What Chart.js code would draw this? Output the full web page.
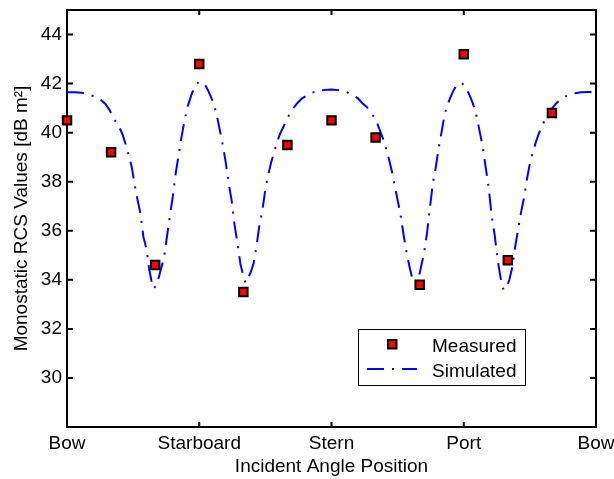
<!DOCTYPE html>
<html>
<head>
<meta charset="utf-8">
<script src="https://cdn.jsdelivr.net/npm/chart.js@4/dist/chart.umd.min.js"></script>
<style>
  html, body { margin: 0; padding: 0; background: #fff; }
  #wrap { width: 614px; height: 479px; position: relative; }
</style>
</head>
<body>
<div id="wrap"><canvas id="rcsChart"></canvas></div>
<script>
// positions around the hull, degrees
const xTickPos = [0, 90, 180, 270, 360];
const xTickLabels = ['Bow', 'Starboard', 'Stern', 'Port', 'Bow'];
const yTicks = [30, 32, 34, 36, 38, 40, 42, 44];

const measAngles = [0, 30, 60, 90, 120, 150, 180, 210, 240, 270, 300, 330];
const measValues = [40.5, 39.2, 34.6, 42.8, 33.5, 39.5, 40.5, 39.8, 33.8, 43.2, 34.8, 40.8];

const simAngles = [0, 5, 10, 15, 19, 23, 26, 29, 32, 35, 38, 41, 44, 47, 50, 52, 54, 56, 57.5, 59,
    60.5, 62, 64, 66, 68, 70, 72, 74, 76, 78, 80, 82, 85, 87, 89.5, 92, 94, 96, 98, 100,
    102, 104, 106, 108, 110, 112, 114, 116, 118, 120, 121.5, 123, 125, 127, 129, 131, 133, 135, 137, 139,
    141, 143, 145, 148, 151, 154, 157, 160, 165, 170, 175, 180, 185, 190, 194, 198, 201, 204, 207, 210,
    213, 216, 219, 221, 223, 225, 227, 229, 231, 233, 235, 237, 239, 241, 243, 245, 247, 249, 251, 253,
    255, 257, 259, 261, 263, 265, 267, 269, 271, 273, 275, 277, 279, 281, 283, 285, 287, 289, 291, 293,
    295, 297, 299, 301, 303, 305, 307, 309, 311, 313, 315, 317, 319, 321, 324, 327, 330, 333, 336, 340,
    345, 350, 355, 360];
const simValues = [41.65, 41.65, 41.63, 41.55, 41.47, 41.33, 41.18, 40.92, 40.55, 40.3, 39.9, 39.3, 38.62, 37.55, 36.7, 35.75, 35.27, 34.41, 33.95, 33.64,
    33.75, 34.0, 34.45, 34.9, 35.75, 36.6, 37.4, 38.35, 39.1, 39.85, 40.5, 41.05, 41.6, 41.88, 42.06, 42.05, 41.95, 41.72, 41.45, 41.15,
    40.7, 40.1, 39.5, 38.8, 37.95, 37.25, 36.25, 35.5, 34.65, 34.15, 33.88, 34.05, 34.3, 34.68, 35.4, 36.25, 36.85, 37.7, 38.3, 38.8,
    39.22, 39.63, 39.95, 40.33, 40.7, 41.0, 41.22, 41.4, 41.58, 41.7, 41.74, 41.76, 41.73, 41.66, 41.55, 41.4, 41.2, 41.05, 40.8, 40.55,
    40.08, 39.6, 38.95, 38.45, 37.85, 37.25, 36.65, 35.85, 35.15, 34.55, 34.05, 33.85, 33.98, 34.55, 35.1, 35.9, 36.95, 37.95, 38.6, 39.4,
    40.05, 40.75, 41.15, 41.45, 41.72, 41.92, 42.02, 42.0, 41.88, 41.65, 41.38, 41.05, 40.6, 40.0, 39.4, 38.55, 37.75, 36.6, 35.85, 34.85,
    34.1, 33.6, 33.65, 34.0, 34.5, 35.35, 36.05, 36.75, 37.35, 38.1, 38.75, 39.2, 39.6, 39.95, 40.38, 40.68, 40.98, 41.2, 41.36, 41.5,
    41.6, 41.65, 41.66, 41.65];

const FONT = 'Liberation Sans, Arial, Helvetica, sans-serif';
const SIM_DASH = [17, 8, 2, 8];

// axes frame with inward tick marks, drawn under the data like matlab does
const frame = {
    id: 'frame',
    beforeDatasetsDraw(chart) {
        const { ctx, chartArea: a, scales: { x, y } } = chart;
        ctx.save();
        ctx.strokeStyle = '#000';
        ctx.lineWidth = 2;
        ctx.strokeRect(a.left, a.top, a.right - a.left, a.bottom - a.top);
        ctx.beginPath();
        xTickPos.forEach(v => {
            const px = x.getPixelForValue(v);
            ctx.moveTo(px, a.bottom); ctx.lineTo(px, a.bottom - 5);
            ctx.moveTo(px, a.top); ctx.lineTo(px, a.top + 5);
        });
        yTicks.forEach(v => {
            const py = y.getPixelForValue(v);
            ctx.moveTo(a.left, py); ctx.lineTo(a.left + 6, py);
            ctx.moveTo(a.right, py); ctx.lineTo(a.right - 6, py);
        });
        ctx.stroke();
        ctx.restore();
    }
};

// legend box in the lower right of the axes
const boxLegend = {
    id: 'boxLegend',
    afterDatasetsDraw(chart) {
        const { ctx, chartArea: a } = chart;
        const bx = a.right - 238, by = a.bottom - 98, bw = 167, bh = 56;
        ctx.save();
        ctx.fillStyle = '#fff';
        ctx.fillRect(bx, by, bw, bh);
        ctx.strokeStyle = '#000';
        ctx.lineWidth = 1;
        ctx.strokeRect(bx + 0.5, by + 0.5, bw, bh);

        // measured marker
        ctx.fillStyle = '#ff0000';
        ctx.lineWidth = 2;
        ctx.fillRect(bx + 30, by + 11, 8.5, 8.5);
        ctx.strokeRect(bx + 30, by + 11, 8.5, 8.5);

        // simulated line sample
        ctx.strokeStyle = '#0000ff';
        ctx.lineWidth = 2;
        ctx.setLineDash(SIM_DASH);
        ctx.beginPath();
        ctx.moveTo(bx + 9, by + 40);
        ctx.lineTo(bx + 59, by + 40);
        ctx.stroke();
        ctx.setLineDash([]);

        ctx.fillStyle = '#000';
        ctx.font = '19px ' + FONT;
        ctx.textBaseline = 'middle';
        ctx.textAlign = 'left';
        ctx.fillText('Measured', bx + 74, by + 18);
        ctx.fillText('Simulated', bx + 74, by + 43);
        ctx.restore();
    }
};

new Chart(document.getElementById('rcsChart').getContext('2d'), {
    type: 'scatter',
    data: {
        datasets: [
            {
                label: 'Measured',
                data: measAngles.map((a, i) => ({ x: a, y: measValues[i] })),
                pointStyle: 'rect',
                pointRadius: 6,
                pointHoverRadius: 6,
                backgroundColor: '#ff0000',
                borderColor: '#000',
                pointBorderWidth: 2,
                clip: false,
                order: 0
            },
            {
                label: 'Simulated',
                type: 'line',
                data: simAngles.map((a, i) => ({ x: a, y: simValues[i] })),
                borderColor: '#0000ff',
                borderWidth: 2,
                borderDash: SIM_DASH,
                pointRadius: 0,
                tension: 0,
                fill: false,
                order: 1
            }
        ]
    },
    options: {
        responsive: true,
        maintainAspectRatio: false,
        animation: false,
        layout: { padding: { top: 10, right: 18, bottom: 0, left: 0 } },
        plugins: { legend: { display: false }, tooltip: { enabled: false } },
        scales: {
            x: {
                type: 'linear',
                min: 0,
                max: 360,
                grid: { display: false, drawTicks: false },
                border: { display: false },
                afterBuildTicks: axis => { axis.ticks = xTickPos.map(v => ({ value: v })); },
                afterFit: axis => {
                    axis.height = 52;
                    axis.paddingLeft = 0;
                    axis.paddingRight = 0;
                },
                ticks: {
                    color: '#000',
                    padding: 5,
                    maxRotation: 0,
                    autoSkip: false,
                    font: { family: FONT, size: 19 },
                    callback: v => xTickLabels[xTickPos.indexOf(v)]
                },
                title: {
                    display: true,
                    text: 'Incident Angle Position',
                    color: '#000',
                    padding: { top: 0, bottom: 1 },
                    font: { family: FONT, size: 19 }
                }
            },
            y: {
                min: 28,
                max: 45,
                grid: { display: false, drawTicks: false },
                border: { display: false },
                afterBuildTicks: axis => { axis.ticks = yTicks.map(v => ({ value: v })); },
                afterFit: axis => {
                    axis.width = 67;
                    axis.paddingTop = 0;
                    axis.paddingBottom = 0;
                },
                ticks: {
                    color: '#000',
                    padding: 5,
                    font: { family: FONT, size: 19 }
                },
                title: {
                    display: true,
                    text: 'Monostatic RCS Values [dB m²]',
                    color: '#000',
                    padding: { top: 10, bottom: 0 },
                    font: { family: FONT, size: 19 }
                }
            }
        }
    },
    plugins: [frame, boxLegend]
});
</script>
</body>
</html>
